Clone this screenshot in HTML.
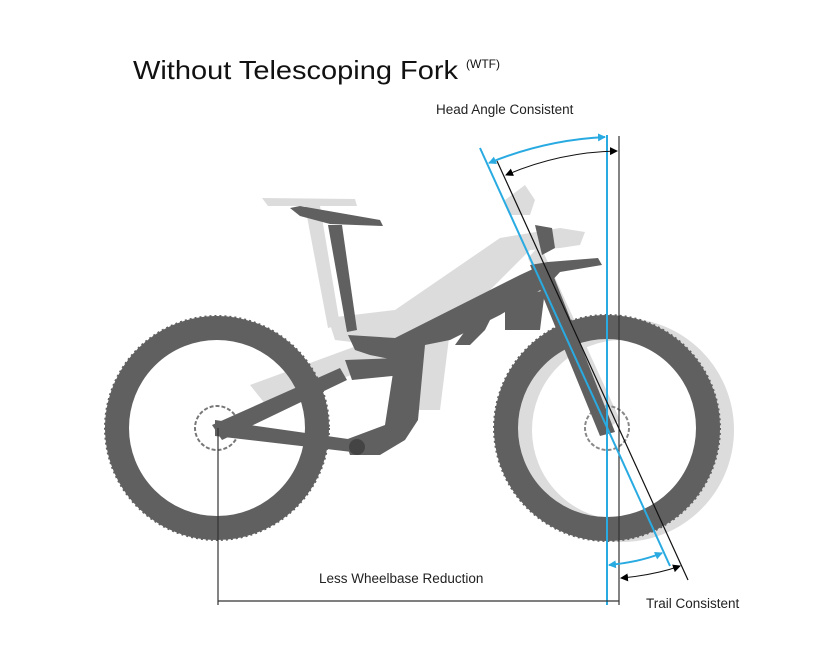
<!DOCTYPE html>
<html><head><style>
body{margin:0;background:#fff;}
svg text{font-family:"Liberation Sans","DejaVu Sans",sans-serif;}
</style></head><body>
<svg width="837" height="665" viewBox="0 0 837 665" xmlns="http://www.w3.org/2000/svg">
<defs>
<marker id="ab" markerWidth="8" markerHeight="8" refX="7" refY="4" orient="auto-start-reverse" markerUnits="userSpaceOnUse"><path d="M0,0 L8,4 L0,8 z" fill="#29abe2"/></marker>
<marker id="ak" markerWidth="8" markerHeight="8" refX="7" refY="4" orient="auto-start-reverse" markerUnits="userSpaceOnUse"><path d="M0,0 L8,4 L0,8 z" fill="#000"/></marker>
</defs>
<text x="133" y="79" font-size="26" fill="#111" textLength="325" lengthAdjust="spacingAndGlyphs">Without Telescoping Fork</text>
<text x="466" y="68" font-size="12" fill="#111">(WTF)</text>

<!-- light gray ghost bike -->
<g fill="#dcdcdc">
<circle cx="622" cy="430" r="101" fill="none" stroke="#dcdcdc" stroke-width="22"/>
<path d="M262,198 L355,199 L357,206 L268,206 Z"/>
<path d="M305,206 L320,206 L340,325 L328,328 Z"/>
<path d="M328,318 L395,310 L500,238 L560,228 L585,232 L580,245 L560,248 L530,250 L480,300 L420,350 L335,340 Z"/>
<path d="M505,200 L525,185 L535,200 L530,215 L510,215 Z"/>
<path d="M540,245 L620,420 L605,430 L528,258 Z"/>
<path d="M250,385 L400,330 L420,345 L270,410 Z"/>
<path d="M400,330 L450,330 L440,410 L410,410 Z"/>
</g>

<!-- rear wheel -->
<circle cx="217" cy="428" r="100" fill="none" stroke="#606060" stroke-width="24"/>
<circle cx="217" cy="428" r="112" fill="none" stroke="#606060" stroke-width="2" stroke-dasharray="2 3"/>
<circle cx="217" cy="428" r="22" fill="none" stroke="#777" stroke-width="2" stroke-dasharray="4 2"/>
<!-- front wheel -->
<circle cx="607" cy="428" r="101" fill="none" stroke="#606060" stroke-width="24"/>
<circle cx="607" cy="428" r="113" fill="none" stroke="#606060" stroke-width="2" stroke-dasharray="2 3"/>
<circle cx="607" cy="428" r="22" fill="none" stroke="#888" stroke-width="2" stroke-dasharray="4 2"/>

<!-- dark frame -->
<g fill="#606060">
<path d="M290,208 L300,206 L380,220 L383,226 L330,224 L300,216 Z"/>
<path d="M328,225 L342,225 L357,330 L347,332 Z"/>
<path d="M348,335 L395,338 L520,275 L548,262 L598,258 L602,265 L560,272 L548,285 L525,300 L500,315 L450,340 L425,345 L418,420 L405,440 L380,455 L350,455 L345,440 L385,425 L395,360 L370,355 L355,350 Z"/>
<path d="M455,345 L480,310 L500,300 L485,330 L470,345 Z"/>
<path d="M535,225 L552,228 L555,248 L542,255 Z"/>
<path d="M530,265 L548,262 L615,432 L600,436 Z"/>
<path d="M505,300 L545,290 L540,330 L505,330 Z"/>
<path d="M215,420 L355,440 L352,452 L215,436 Z"/>
<path d="M212,425 L340,368 L347,380 L222,440 Z"/>
<path d="M345,360 L398,358 L402,375 L352,380 Z"/>
</g>
<circle cx="357" cy="447" r="8" fill="#444"/>

<!-- measure lines -->
<line x1="607" y1="135" x2="607" y2="605" stroke="#29abe2" stroke-width="2"/>
<line x1="619" y1="136" x2="619" y2="605" stroke="#333" stroke-width="1.2"/>
<line x1="480" y1="148" x2="670" y2="566" stroke="#29abe2" stroke-width="2"/>
<line x1="497" y1="161" x2="688" y2="580" stroke="#111" stroke-width="1.2"/>

<path d="M489,163 Q545,140 605,137" fill="none" stroke="#29abe2" stroke-width="2" marker-start="url(#ab)" marker-end="url(#ab)"/>
<path d="M506,175 Q560,152 617,151" fill="none" stroke="#111" stroke-width="1" marker-start="url(#ak)" marker-end="url(#ak)"/>
<path d="M609,565 Q640,562 662,553" fill="none" stroke="#29abe2" stroke-width="2" marker-start="url(#ab)" marker-end="url(#ab)"/>
<path d="M621,578 Q655,575 680,566" fill="none" stroke="#111" stroke-width="1" marker-start="url(#ak)" marker-end="url(#ak)"/>

<line x1="218" y1="428" x2="218" y2="605" stroke="#333" stroke-width="1.2"/>
<line x1="218" y1="601" x2="619" y2="601" stroke="#333" stroke-width="1.2"/>

<text x="436" y="114" font-size="13.5" fill="#222">Head Angle Consistent</text>
<text x="319" y="583" font-size="13.5" fill="#222">Less Wheelbase Reduction</text>
<text x="646" y="608" font-size="13.5" fill="#222">Trail Consistent</text>
</svg>
</body></html>
